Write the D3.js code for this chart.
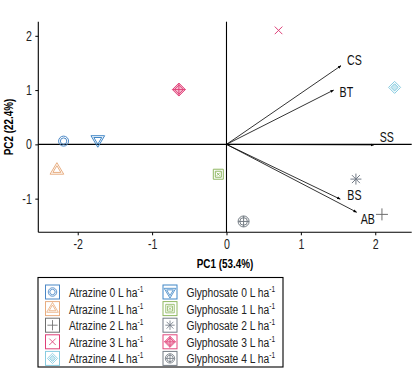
<!DOCTYPE html>
<html>
<head>
<meta charset="utf-8">
<script src="https://cdn.jsdelivr.net/npm/d3@7"></script>
<style>
  body { margin: 0; background: #fff; }
  text { font-family: "Liberation Sans", Arial, sans-serif; }
</style>
</head>
<body>
<div id="graphic" width="417" height="385"></div>
<script>
// treatment scores (PC1, PC2)
let treatments = ["Atrazine 0", "Atrazine 1", "Atrazine 2", "Atrazine 3", "Atrazine 4",
                  "Glyphosate 0", "Glyphosate 1", "Glyphosate 2", "Glyphosate 3", "Glyphosate 4"];
let pc1 = [-2.19, -2.28, 2.09, 0.70, 2.26, -1.73, -0.11, 1.74, -0.64, 0.23];
let pc2 = [0.06, -0.47, -1.29, 2.10, 1.05, 0.08, -0.55, -0.64, 1.01, -1.42];
let colors = ["#4a87c6", "#e8ad80", "#6e6e6e", "#de3f78", "#86cbe0",
              "#3f86c6", "#8fb862", "#737b86", "#e2467c", "#747c84"];
let shapes = ["dcircle", "dtriangle", "plus", "cross", "ddiamond",
              "dtriangledown", "dsquare", "asterisk", "diamondplus", "circleplus"];

// variable loadings
let variables = ["CS", "BT", "SS", "BS", "AB"];
let load1 = [1.54, 1.44, 1.98, 1.53, 1.75];
let load2 = [1.45, 1.00, -0.01, -1.01, -1.25];

let xTicks = [-2, -1, 0, 1, 2];
let yTicks = [-1, 0, 1, 2];

let graphic = document.querySelector('#graphic');
let W = +graphic.getAttribute('width'), H = +graphic.getAttribute('height');
let plot = {left: 38.3, right: 411.7, top: 21.7, bottom: 232.3};
let NARROW = 0.76; // no Arial Narrow here, so squeeze Liberation Sans

let svg = d3.select("#graphic").append("svg")
    .attr("width", W).attr("height", H);

// turn x/y of a text into a translate and squeeze it horizontally
function squeeze(sel) {
    sel.each(function() {
        let t = d3.select(this);
        let tx = +t.attr("x") || 0, ty = +t.attr("y") || 0;
        t.attr("x", 0).attr("y", 0)
         .attr("transform", "translate(" + tx + "," + ty + ")scale(" + NARROW + ",1)");
    });
}

let x = d3.scaleLinear().domain([-2.53, 2.49]).range([plot.left, plot.right]);
let y = d3.scaleLinear().domain([-1.62, 2.26]).range([plot.bottom, plot.top]);

// arrow head
svg.append("defs").append("marker")
    .attr("id", "head")
    .attr("viewBox", "0 0 10 10")
    .attr("refX", 9).attr("refY", 5)
    .attr("markerWidth", 4.5).attr("markerHeight", 4.5)
    .attr("orient", "auto")
  .append("path")
    .attr("d", "M0,1L10,5L0,9Z")
    .attr("fill", "#000");

// zero reference lines
svg.append("line")
    .attr("x1", plot.left).attr("x2", plot.right)
    .attr("y1", y(0)).attr("y2", y(0))
    .attr("stroke", "#000").attr("stroke-width", 1.1);
svg.append("line")
    .attr("x1", x(0)).attr("x2", x(0))
    .attr("y1", plot.top).attr("y2", plot.bottom)
    .attr("stroke", "#000").attr("stroke-width", 1.1);

// axes
let xAxis = svg.append("g")
    .attr("transform", "translate(0," + plot.bottom + ")")
    .call(d3.axisBottom(x).tickValues(xTicks).tickSize(3).tickPadding(4).tickFormat(d3.format("d")));
let yAxis = svg.append("g")
    .attr("transform", "translate(" + plot.left + ",0)")
    .call(d3.axisLeft(y).tickValues(yTicks).tickSize(3).tickPadding(3.5).tickFormat(d3.format("d")));
[xAxis, yAxis].forEach(function(a) {
    a.select(".domain").attr("stroke-width", 1.1);
    a.selectAll("text").style("font-size", "14px").attr("fill", "#222")
        .text(d => d < 0 ? "-" + Math.abs(d) : d);
    squeeze(a.selectAll(".tick text"));
});
xAxis.select(".domain").attr("d", "M" + plot.left + ",0H" + plot.right);
yAxis.select(".domain").attr("d", "M0," + plot.top + "V" + plot.bottom);

// axis titles
svg.append("text")
    .attr("transform", "translate(225,268)scale(" + NARROW + ",1)")
    .attr("text-anchor", "middle")
    .style("font-size", "13px").style("font-weight", "bold")
    .text("PC1 (53.4%)");
svg.append("text")
    .attr("transform", "translate(13,127)rotate(-90)scale(" + NARROW + ",1)")
    .attr("text-anchor", "middle")
    .style("font-size", "13px").style("font-weight", "bold")
    .text("PC2 (22.4%)");

// draw a point symbol into group g
function drawSymbol(g, shape, color) {
    let s = g.attr("fill", "none").attr("stroke", color).attr("stroke-width", 1);
    let path = d => s.append("path").attr("d", d);
    let diamond = r => "M0," + (-r) + "L" + r + ",0L0," + r + "L" + (-r) + ",0Z";
    let tri = r => "M0," + (-r) + "L" + (r * 0.95) + "," + (r * 0.6) + "L" + (-r * 0.95) + "," + (r * 0.6) + "Z";
    let triDown = r => "M0," + r + "L" + (r * 0.95) + "," + (-r * 0.6) + "L" + (-r * 0.95) + "," + (-r * 0.6) + "Z";
    if (shape == "dcircle") {
        s.append("circle").attr("r", 5);
        s.append("circle").attr("r", 3.2);
    } else if (shape == "dtriangle") {
        path(tri(7.2));
        path(tri(4.2));
    } else if (shape == "dtriangledown") {
        path(triDown(7.2));
        path(triDown(4.2));
    } else if (shape == "plus") {
        path("M-6,0H6M0,-6V6");
    } else if (shape == "cross") {
        path("M-3.8,-3.8L3.8,3.8M-3.8,3.8L3.8,-3.8");
    } else if (shape == "asterisk") {
        path("M-5.5,0H5.5M0,-5.5V5.5M-4,-4L4,4M-4,4L4,-4");
    } else if (shape == "ddiamond") {
        path(diamond(6));
        path(diamond(3.6)).attr("fill", color).attr("fill-opacity", 0.45);
    } else if (shape == "dsquare") {
        path("M-5,-5H5V5H-5Z");
        path("M-3,-3H3V3H-3Z");
        path("M-1.5,-1.5L1.5,1.5M-1.5,1.5L1.5,-1.5");
    } else if (shape == "diamondplus") {
        path(diamond(6.5)).attr("fill", color).attr("fill-opacity", 0.35);
        path(diamond(4.5));
        path("M-6.5,0H6.5M0,-6.5V6.5");
    } else if (shape == "circleplus") {
        s.append("circle").attr("r", 5.5);
        s.append("circle").attr("r", 3.8);
        path("M-5.5,0H5.5M0,-5.5V5.5");
    }
}

// loading arrows
let nudge = {CS: [6, -1], BT: [6, 7], SS: [6, -3], BS: [7, 1], AB: [4, 12]};
let loadings = variables.map((v, i) => ({name: v, x: load1[i], y: load2[i]}));
svg.selectAll(".arrow")
    .data(loadings)
    .enter().append("line")
    .attr("class", "arrow")
    .attr("x1", x(0)).attr("y1", y(0))
    .attr("x2", d => x(d.x)).attr("y2", d => y(d.y))
    .attr("stroke", "#000").attr("stroke-width", 0.8)
    .attr("marker-end", "url(#head)");
svg.selectAll(".vlabel")
    .data(loadings)
    .enter().append("text")
    .attr("class", "vlabel")
    .attr("x", d => x(d.x) + nudge[d.name][0])
    .attr("y", d => y(d.y) + nudge[d.name][1])
    .style("font-size", "14px").attr("fill", "#111")
    .text(d => d.name)
    .call(squeeze);

// treatment points
let points = treatments.map((t, i) => ({name: t, x: pc1[i], y: pc2[i], color: colors[i], shape: shapes[i]}));
svg.selectAll(".pt")
    .data(points)
    .enter().append("g")
    .attr("class", "pt")
    .attr("transform", d => "translate(" + x(d.x) + "," + y(d.y) + ")")
    .each(function(d) { drawSymbol(d3.select(this), d.shape, d.color); });

// legend
let legend = svg.append("g").attr("transform", "translate(38,277.5)");
legend.append("rect")
    .attr("width", 245).attr("height", 89.5)
    .attr("fill", "#fff").attr("stroke", "#000").attr("stroke-width", 1.1);
let items = legend.selectAll(".item")
    .data(points)
    .enter().append("g")
    .attr("class", "item")
    .attr("transform", (d, i) => "translate(" + (i < 5 ? 14.5 : 132) + "," + (14.5 + (i % 5) * 16.6) + ")");
items.append("rect")
    .attr("x", -7).attr("y", -7).attr("width", 14).attr("height", 14)
    .attr("fill", "#fff").attr("stroke", d => d.color).attr("stroke-width", 1);
items.append("g")
    .attr("transform", "scale(0.85)")
    .each(function(d) { drawSymbol(d3.select(this), d.shape, d.color); });
let lt = items.append("text")
    .attr("x", 16.5).attr("y", 5)
    .style("font-size", "13.5px").attr("fill", "#222");
lt.append("tspan").text(d => d.name + " L ha");
lt.append("tspan").attr("dy", -5).style("font-size", "8.5px").text("-1");
squeeze(lt);
</script>
</body>
</html>
